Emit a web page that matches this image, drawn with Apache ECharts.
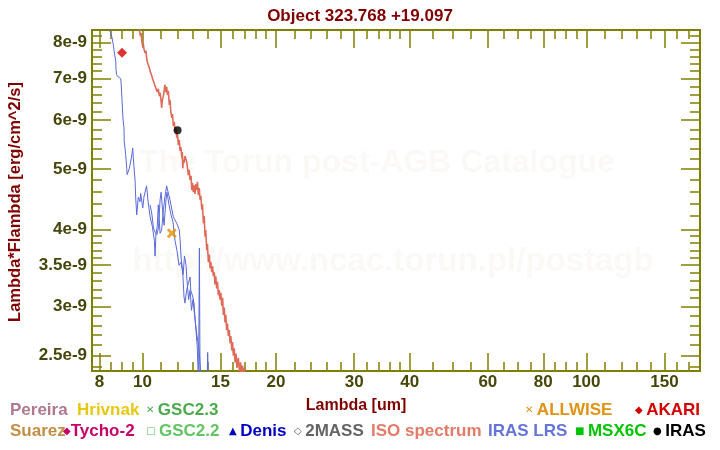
<!DOCTYPE html>
<html>
<head>
<meta charset="utf-8">
<script src="https://cdn.jsdelivr.net/npm/echarts@6/dist/echarts.min.js"></script>
<style>html,body{margin:0;padding:0;background:#fff}#chart{width:720px;height:450px}</style>
</head>
<body>
<div id="chart"></div>
<script>
// ---------------- data (wavelength in um, Lambda*Flambda in 1e-9 erg/cm^2/s) ----------------
const TITLE = 'Object 323.768 +19.097';
const X_RANGE = [7.70, 180.3];
const Y_RANGE = [2.3625, 8.387];

const X_MAJOR = [8, 10, 15, 20, 30, 40, 60, 80, 100, 150];
const X_MINOR = [8.5, 9, 9.5, 11, 12, 13, 14, 16, 17, 18, 19, 22, 24, 26, 28, 32, 34, 36, 38,
                 45, 50, 55, 65, 70, 75, 85, 90, 95, 110, 120, 130, 140, 160, 170];
const Y_MAJOR = [2.5, 3, 3.5, 4, 5, 6, 7, 8];
const Y_MINOR = [2.4, 2.6, 2.7, 2.8, 2.9, 3.1, 3.2, 3.3, 3.4, 3.6, 3.7, 3.8, 3.9, 4.2, 4.4, 4.6, 4.8,
                 5.2, 5.4, 5.6, 5.8, 6.2, 6.4, 6.6, 6.8, 7.2, 7.4, 7.6, 7.8, 8.2];

const ISO_SPECTRUM = [
 [9.72,8.87],[9.83,8.45],[9.90,8.20],[9.94,8.29],[9.97,8.05],[10.01,7.90],[10.05,7.96],[10.08,7.82],
 [10.14,7.70],[10.19,7.76],[10.22,7.56],[10.26,7.45],[10.31,7.50],[10.37,7.28],[10.42,7.18],[10.46,7.23],
 [10.50,7.07],[10.55,6.99],[10.59,7.04],[10.64,6.86],[10.68,6.91],[10.72,6.76],[10.77,6.81],[10.80,6.66],
 [10.86,6.74],[10.92,6.56],[10.96,6.64],[11.02,6.44],[11.05,6.28],[11.09,6.47],[11.15,6.56],[11.20,6.71],
 [11.24,6.84],[11.29,6.66],[11.34,6.79],[11.39,6.59],[11.44,6.69],[11.50,6.35],[11.54,6.47],[11.59,6.18],
 [11.65,6.05],[11.69,6.14],[11.74,5.87],[11.80,5.96],[11.84,5.76],[11.89,5.85],[11.95,5.62],[11.99,5.72],
 [12.05,5.47],[12.11,5.57],[12.16,5.35],[12.21,5.43],[12.27,5.21],[12.30,5.33],[12.33,5.02],[12.37,5.18],
 [12.41,5.12],[12.47,5.25],[12.54,5.27],[12.58,5.14],[12.62,5.06],[12.69,4.89],[12.74,4.99],[12.81,4.80],
 [12.87,4.88],[12.92,4.63],[12.97,4.75],[13.02,4.59],[13.08,4.71],[13.14,4.56],[13.20,4.73],[13.25,4.63],
 [13.30,4.77],[13.37,4.54],[13.43,4.66],[13.49,4.46],[13.54,4.53],[13.61,4.30],[13.66,4.39],[13.72,4.09],
 [13.78,4.20],[13.84,3.89],[13.89,3.99],[13.96,3.70],[14.01,3.79],[14.08,3.54],[14.15,3.64],[14.21,3.46],
 [14.26,3.54],[14.33,3.41],[14.39,3.49],[14.45,3.36],[14.52,3.41],[14.57,3.26],[14.63,3.36],[14.70,3.21],
 [14.76,3.29],[14.83,3.13],[14.90,3.19],[14.96,3.08],[15.02,3.16],[15.09,3.01],[15.16,3.10],[15.22,2.91],
 [15.29,2.99],[15.35,2.83],[15.41,2.91],[15.48,2.75],[15.54,2.82],[15.62,2.69],[15.69,2.75],[15.76,2.62],
 [15.82,2.69],[15.90,2.55],[15.96,2.63],[16.03,2.50],[16.10,2.57],[16.17,2.44],[16.25,2.52],[16.33,2.39],
 [16.45,2.48],[16.55,2.35],[16.64,2.44],[16.74,2.32],[16.81,2.41],[16.90,2.29],[16.98,2.39],[17.07,2.24],
 [17.20,2.16]
];

const IRAS_LRS_SHORT = [
 [8.03,9.38],[8.24,8.87],[8.43,8.40],[8.53,8.19],[8.60,7.94],[8.66,7.65],[8.71,7.47],[8.72,7.24],
 [8.75,7.10],[8.83,7.04],[8.94,7.00],[8.97,6.76],[9.00,6.44],[9.04,6.05],[9.09,5.83],[9.10,5.55],
 [9.17,5.28],[9.22,5.02],[9.24,4.90],[9.35,5.02],[9.46,5.25],[9.51,5.41],[9.54,5.21],[9.63,4.78],
 [9.66,4.49],[9.71,4.22],[9.79,4.51],[9.88,4.43],[9.91,4.57],[10.02,4.33],[10.08,4.51],[10.22,4.70],
 [10.31,4.41],[10.41,4.19],[10.53,4.04],[10.64,3.84],[10.68,3.62],[10.73,3.94],[10.80,4.04],[10.86,4.38],
 [10.96,3.94],[11.05,3.99],[11.15,4.30],[11.24,4.51],[11.34,4.70],[11.54,4.46],[11.74,4.19],[11.95,4.09],
 [12.11,3.99],[12.16,3.84],[12.22,3.61],[12.33,3.40],[12.41,3.11],[12.47,3.04],[12.58,3.19],[12.69,3.27],
 [12.81,3.35],[12.85,3.19],[12.99,3.11],[13.07,3.04],[13.20,2.75],[13.29,2.59],[13.38,2.24],[13.44,3.73],
 [13.49,2.20]
];
const IRAS_LRS_LONG = [
 [10.41,4.38],[10.51,4.22],[10.59,4.02],[10.69,3.95],[10.78,3.92],[10.87,4.02],[10.96,4.46],[11.02,4.59],
 [11.10,4.30],[11.19,4.06],[11.30,4.46],[11.36,4.59],[11.48,4.38],[11.60,4.22],[11.72,4.11],[11.84,3.84],
 [11.96,3.70],[12.09,3.50],[12.22,3.54],[12.35,3.38],[12.44,3.62],[12.54,3.50],[12.60,3.31],[12.71,3.08],
 [12.81,3.19],[12.90,2.96],[13.00,3.08],[13.14,2.86],[13.27,2.70],[13.42,2.55],[13.59,2.24],[13.98,2.18],
 [14.03,2.53],[14.09,2.20]
];
const AKARI = [[9.0, 7.71]];
const IRAS = [[12.0, 5.78]];
const ALLWISE = [[11.65, 3.94]];

// ---------------- chart ----------------
const LOG = v => Math.log10(v);
const toLog = arr => arr.map(p => [LOG(p[0]), LOG(p[1])]);
const AXIS_COLOR = '#808000';
const LABEL_COLOR = '#46460a';
const FONT = 'Liberation Sans';

const fmtX = v => String(Number(Math.pow(10, v).toPrecision(3)));
const fmtY = v => Number(Math.pow(10, v).toPrecision(2)) + 'e-9';

function makeAxis(kind, position, ticks, tickLen, labels, fmt, margin) {
  const range = kind === 'x' ? X_RANGE : Y_RANGE;
  return {
    type: 'value', position: position, gridIndex: 0,
    min: LOG(range[0]), max: LOG(range[1]),
    splitLine: { show: false },
    axisLine: { show: true, onZero: false, lineStyle: { color: AXIS_COLOR, width: 2 } },
    axisTick: { show: true, inside: true, length: tickLen, customValues: ticks.map(LOG),
                lineStyle: { color: AXIS_COLOR, width: 1.5 } },
    axisLabel: labels ? { show: true, customValues: labels.map(LOG), formatter: fmt, color: LABEL_COLOR,
                          fontSize: 17, fontWeight: 'bold', fontFamily: FONT, margin: margin }
                      : { show: false }
  };
}

const xAxes = [
  makeAxis('x', 'bottom', X_MAJOR, 18, X_MAJOR, fmtX, 3),
  makeAxis('x', 'bottom', X_MINOR, 9, null),
  makeAxis('x', 'top', X_MAJOR, 18, null),
  makeAxis('x', 'top', X_MINOR, 9, null)
];
const yAxes = [
  makeAxis('y', 'left', Y_MAJOR, 19, Y_MAJOR, fmtY, 5),
  makeAxis('y', 'left', Y_MINOR, 10, null),
  makeAxis('y', 'right', Y_MAJOR, 19, null),
  makeAxis('y', 'right', Y_MINOR, 10, null)
];

function txt(x, y, text, color) {
  return {
    type: 'text', x: x, y: y, silent: true,
    style: { text: text, fill: color, fontSize: 17, fontWeight: 'bold', fontFamily: FONT,
             align: 'left', verticalAlign: 'middle',
             rich: { s: { fontSize: 10, fill: color, fontFamily: 'DejaVu Sans', fontWeight: 'bold' } } }
  };
}

const graphics = [
  { type: 'text', x: 377, y: 163, z: -10, silent: true,
    style: { text: 'The Torun post-AGB Catalogue', fill: '#fbf9f6', fontSize: 32, fontWeight: 'bold',
             fontFamily: FONT, align: 'center', verticalAlign: 'middle' } },
  { type: 'text', x: 393, y: 262, z: -10, silent: true,
    style: { text: 'http://www.ncac.torun.pl/postagb', fill: '#fbf9f6', fontSize: 33, fontWeight: 'bold',
             fontFamily: FONT, align: 'center', verticalAlign: 'middle' } },
  { type: 'text', x: 15, y: 202, rotation: Math.PI / 2, silent: true,
    style: { text: 'Lambda*Flambda [erg/cm^2/s]', fill: '#800000', fontSize: 16.5, fontWeight: 'bold',
             fontFamily: FONT, align: 'center', verticalAlign: 'middle' } },
  { type: 'text', x: 356, y: 406, silent: true,
    style: { text: 'Lambda [um]', fill: '#800000', fontSize: 16, fontWeight: 'bold',
             fontFamily: FONT, align: 'center', verticalAlign: 'middle' } },
  txt(10, 410, 'Pereira', '#b07888'),
  txt(77, 410, 'Hrivnak', '#e6c812'),
  txt(146, 410, '{s|✕ }GSC2.3', '#4caa4c'),
  txt(525, 410, '{s|✕ }ALLWISE', '#e09212'),
  txt(635, 410, '{s|◆ }AKARI', '#d40000'),
  txt(10, 431, 'Suarez', '#c48e44'),
  txt(63, 431, '{s|◆}Tycho-2', '#c8006a'),
  txt(146, 431, '{s|□ }GSC2.2', '#62c462'),
  txt(229, 431, '{s|▲ }Denis', '#0000c4'),
  txt(294, 431, '{s|◇ }2MASS', '#646464'),
  txt(371, 431, 'ISO spectrum', '#e47a68'),
  txt(488, 431, 'IRAS LRS', '#6474d8'),
  txt(575, 431, '{s|■ }MSX6C', '#00c400'),
  txt(653, 431, '{s|● }IRAS', '#000000')
];

const option = {
  animation: false,
  backgroundColor: '#ffffff',
  title: { text: TITLE, left: 'center', top: 3,
           textStyle: { color: '#800000', fontSize: 17, fontWeight: 'bold', fontFamily: FONT } },
  grid: { left: 92, right: 20, top: 30, bottom: 79, containLabel: false },
  xAxis: xAxes,
  yAxis: yAxes,
  graphic: graphics,
  series: [
    { name: 'IRAS LRS', type: 'line', data: toLog(IRAS_LRS_SHORT), symbol: 'none', clip: true,
      lineStyle: { color: '#5a6ad6', width: 1 }, z: 3 },
    { name: 'IRAS LRS', type: 'line', data: toLog(IRAS_LRS_LONG), symbol: 'none', clip: true,
      lineStyle: { color: '#5a6ad6', width: 1 }, z: 3 },
    { name: 'ISO spectrum', type: 'line', data: toLog(ISO_SPECTRUM), symbol: 'none', clip: true,
      lineStyle: { color: '#e06a58', width: 1.6 }, z: 3 },
    { name: 'AKARI', type: 'scatter', data: toLog(AKARI), symbol: 'diamond', symbolSize: 10,
      itemStyle: { color: '#d00000' }, z: 5 },
    { name: 'IRAS', type: 'scatter', data: toLog(IRAS), symbol: 'circle', symbolSize: 8,
      itemStyle: { color: '#000000' }, z: 5 },
    { name: 'ALLWISE', type: 'scatter', data: toLog(ALLWISE),
      symbol: 'path://M0,2L2,0L5,3L8,0L10,2L7,5L10,8L8,10L5,7L2,10L0,8L3,5Z', symbolSize: 10,
      itemStyle: { color: '#e09000' }, z: 5 }
  ]
};

const chart = echarts.init(document.getElementById('chart'), null, { renderer: 'canvas' });
chart.setOption(option);
</script>
</body>
</html>
